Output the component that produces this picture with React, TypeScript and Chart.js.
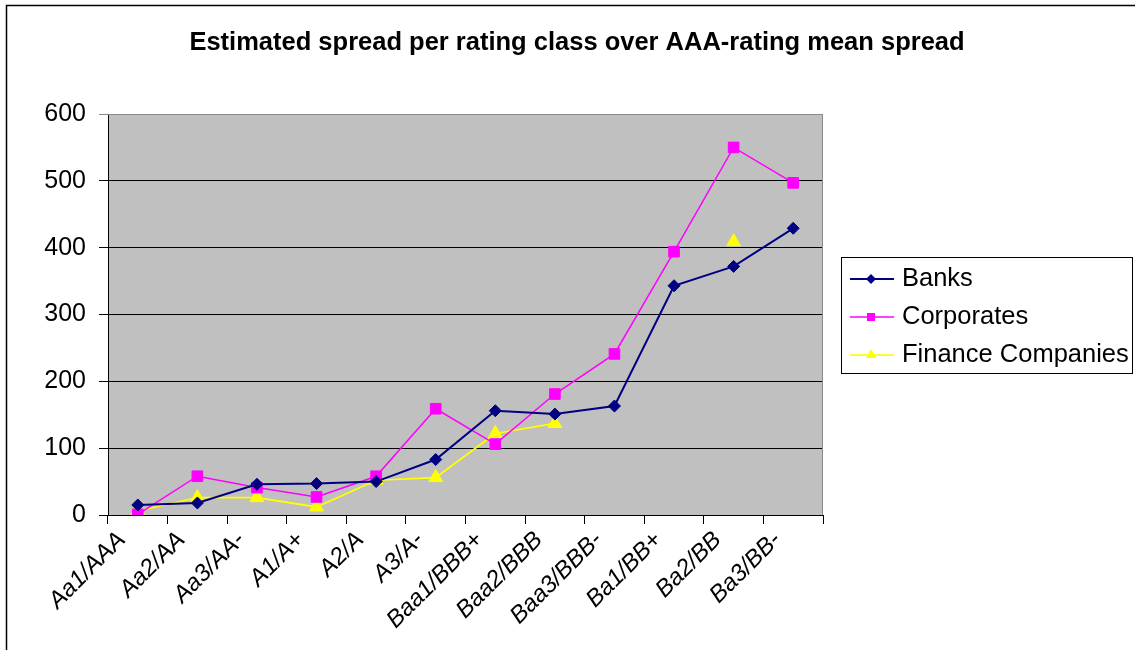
import React, { useEffect, useRef } from 'react';
import { Chart, registerables } from 'chart.js';

Chart.register(...registerables);

const TITLE = 'Estimated spread per rating class over AAA-rating mean spread';
const categories = ['Aa1/AAA', 'Aa2/AA', 'Aa3/AA-', 'A1/A+', 'A2/A', 'A3/A-', 'Baa1/BBB+', 'Baa2/BBB', 'Baa3/BBB-', 'Ba1/BB+', 'Ba2/BB', 'Ba3/BB-'];
const banks = [15, 18, 46, 47, 50, 83, 156, 151, 163, 343, 372, 429];
const corporates = [1, 58, 41, 27, 58, 159, 106, 181, 241, 394, 550, 497];
const financeCompanies = [6, 26, 26, 12, 52, 56, 122, 137, null, null, 409, null];
const seriesNames = ['Banks', 'Corporates', 'Finance Companies'];
const yMin = 0;
const yMax = 600;
const yStep = 100;

const FONT = '"Liberation Sans", Arial, sans-serif';

const decorPlugin = {
  id: 'decor',
  beforeDraw(chart: any) {
    const { ctx, chartArea: a, width, height } = chart;
    ctx.save();
    ctx.fillStyle = '#ffffff';
    ctx.fillRect(0, 0, width, height);
    ctx.fillStyle = '#c0c0c0';
    ctx.fillRect(a.left, a.top, a.right - a.left, a.bottom - a.top);
    // outer chart frame
    ctx.strokeStyle = '#000000';
    ctx.lineWidth = 1.5;
    ctx.strokeRect(6.5, 5.5, width + 50, height + 50);
    ctx.restore();
  },
  afterDraw(chart: any) {
    const { ctx, chartArea: a } = chart;
    ctx.save();
    // plot area border (top/right)
    ctx.strokeStyle = '#8a8a8a';
    ctx.lineWidth = 1;
    ctx.beginPath();
    ctx.moveTo(a.left, a.top + 0.5);
    ctx.lineTo(a.right - 0.5, a.top + 0.5);
    ctx.lineTo(a.right - 0.5, a.bottom);
    ctx.stroke();

    // title
    ctx.fillStyle = '#000';
    ctx.font = `bold 25.5px ${FONT}`;
    ctx.textAlign = 'center';
    ctx.textBaseline = 'middle';
    ctx.fillText(TITLE, 577, 43);

    // legend
    const bx = 841, by = 257, bw = 291, bh = 116;
    ctx.strokeStyle = '#000';
    ctx.lineWidth = 1;
    ctx.strokeRect(bx + 0.5, by + 0.5, bw, bh);
    const rows = [279, 317, 355];
    chart.data.datasets.forEach((ds: any, i: number) => {
      const y = rows[i];
      ctx.strokeStyle = ds.borderColor;
      ctx.lineWidth = ds.borderWidth;
      ctx.beginPath();
      ctx.moveTo(850, y);
      ctx.lineTo(894, y);
      ctx.stroke();
      ctx.fillStyle = ds.pointBackgroundColor;
      const cx = 871;
      ctx.beginPath();
      if (ds.pointStyle === 'rectRot') {
        const r = 5;
        ctx.moveTo(cx - r, y);
        ctx.lineTo(cx, y - r);
        ctx.lineTo(cx + r, y);
        ctx.lineTo(cx, y + r);
      } else if (ds.pointStyle === 'rect') {
        ctx.rect(cx - 4, y - 4, 8, 8);
      } else {
        const r = 6;
        ctx.moveTo(cx, y - r);
        ctx.lineTo(cx + r * 0.866, y + r * 0.5);
        ctx.lineTo(cx - r * 0.866, y + r * 0.5);
      }
      ctx.closePath();
      ctx.fill();
      ctx.fillStyle = '#000';
      ctx.font = `25.5px ${FONT}`;
      ctx.textAlign = 'left';
      ctx.textBaseline = 'middle';
      ctx.fillText(ds.label, 902, y);
    });
    ctx.restore();
  },
};

export default function App() {
  const ref = useRef<HTMLCanvasElement | null>(null);

  useEffect(() => {
    if (!ref.current) return;
    const chart = new Chart(ref.current, {
      type: 'line',
      data: {
        labels: categories,
        datasets: [
          {
            label: seriesNames[0],
            data: banks,
            borderColor: '#000080',
            backgroundColor: '#000080',
            pointBackgroundColor: '#000080',
            pointBorderColor: '#000080',
            borderWidth: 2,
            pointStyle: 'rectRot',
            pointRadius: 6,
            pointBorderWidth: 1,
            tension: 0,
          },
          {
            label: seriesNames[1],
            data: corporates,
            borderColor: '#ff00ff',
            backgroundColor: '#ff00ff',
            pointBackgroundColor: '#ff00ff',
            pointBorderColor: '#ff00ff',
            borderWidth: 1.5,
            pointStyle: 'rect',
            pointRadius: 7.5,
            pointBorderWidth: 1,
            tension: 0,
          },
          {
            label: seriesNames[2],
            data: financeCompanies,
            borderColor: '#ffff00',
            backgroundColor: '#ffff00',
            pointBackgroundColor: '#ffff00',
            pointBorderColor: '#ffff00',
            borderWidth: 1.75,
            pointStyle: 'triangle',
            pointRadius: 8,
            pointBorderWidth: 1,
            tension: 0,
            spanGaps: false,
          },
        ],
      },
      options: {
        animation: false,
        responsive: true,
        maintainAspectRatio: false,
        layout: { padding: { top: 114, right: 312, left: 0, bottom: 0 } },
        plugins: {
          legend: { display: false },
          title: { display: false },
          tooltip: { enabled: false },
        },
        scales: {
          x: {
            type: 'category',
            offset: true,
            afterFit: (s: any) => { s.height = 135; },
            grid: {
              offset: true,
              drawOnChartArea: false,
              drawTicks: true,
              tickLength: 9,
              color: '#000',
              lineWidth: 1,
            },
            border: { display: true, color: '#000', width: 1 },
            ticks: {
              autoSkip: false,
              maxRotation: 45,
              minRotation: 45,
              color: '#000',
              padding: 2,
              labelOffset: -16,
              font: { family: FONT, size: 24, style: 'italic' },
            },
          },
          y: {
            min: yMin,
            max: yMax,
            afterFit: (s: any) => { s.width = 108; },
            grid: {
              color: (c: any) => (c.tick && c.tick.value === yMax ? '#8a8a8a' : '#000'),
              lineWidth: 1,
              drawTicks: true,
              tickLength: 9,
            },
            border: { display: true, color: '#000', width: 1 },
            ticks: {
              stepSize: yStep,
              color: '#000',
              padding: 13,
              font: { family: FONT, size: 25 },
            },
          },
        },
      },
      plugins: [decorPlugin],
    });
    return () => chart.destroy();
  }, []);

  return (
    <div style={{ position: 'fixed', left: 0, top: 0, width: 1135, height: 650, background: '#fff' }}>
      <canvas ref={ref} />
    </div>
  );
}
